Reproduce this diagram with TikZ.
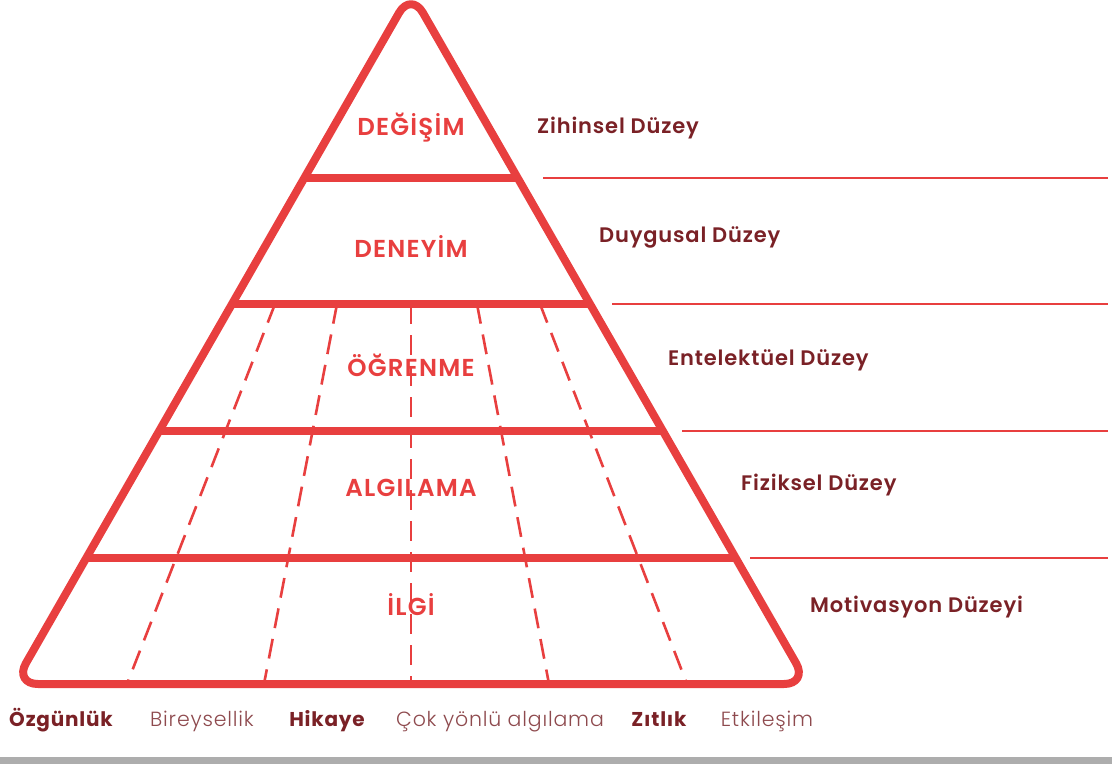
\documentclass[tikz,border=0pt]{standalone}
\usepackage{fontspec}
\setmainfont{Poppins}
\newfontfamily\levelfont{Poppins SemiBold}[LetterSpace=5]
\newfontfamily\tierfont{Poppins SemiBold}[LetterSpace=4]
\newfontfamily\keyfont{Poppins Bold}[LetterSpace=4]
\newfontfamily\asidefont{Poppins Light}[LetterSpace=4]
\usetikzlibrary{calc}
\definecolor{pyrred}{HTML}{E83F3F}
\definecolor{tierred}{HTML}{7A2126}
\definecolor{softred}{HTML}{8E4A4E}
\definecolor{bargray}{HTML}{ADADAD}

\begin{document}
\begin{tikzpicture}[x=1pt, y=-1pt,
	pyr/.style={draw=pyrred, line width=8pt, line join=round},
	band/.style={draw=pyrred, line width=8pt},
	guide/.style={draw=pyrred, line width=2.5pt},
	split/.style={draw=pyrred, line width=2.6pt, dash pattern=on 20pt off 11pt},
	level/.style={font=\levelfont\fontsize{24.5}{24.5}\selectfont, text=pyrred, anchor=base, inner sep=0pt},
	tier/.style={font=\tierfont\fontsize{21}{21}\selectfont, text=tierred, anchor=base west, inner sep=0pt},
	key/.style={font=\keyfont\fontsize{20}{20}\selectfont, text=tierred, anchor=base, inner sep=0pt},
	aside/.style={font=\asidefont\fontsize{20.5}{20.5}\selectfont, text=softred, anchor=base, inner sep=0pt}]
	\useasboundingbox (0,0) rectangle (1112,764);
	% corners of the pyramid
	\coordinate (apex) at (411,-8);
	\coordinate (bl) at (14,684);
	\coordinate (br) at (808,684);
	\coordinate (bm) at (411,684);
	% dashed splits
	\foreach \top/\bot [count=\i] in {275/127, 337/264, 411/411, 477/549, 540/687} {
		\coordinate (s\i) at (\top,304);
		\coordinate (e\i) at (\bot,684);
		\draw[split] (s\i) -- (e\i);
	}
	% bands and guide lines
	\foreach \y/\gx [count=\i] in {178/543, 304/612, 431/682, 558/750} {
		\coordinate (l\i) at ($(apex)!{(\y+8)/692}!(bl)$);
		\coordinate (r\i) at ($(apex)!{(\y+8)/692}!(br)$);
		\coordinate (ga\i) at (\gx,\y);
		\coordinate (gb\i) at (1108,\y);
		\draw[band] (l\i) -- (r\i);
		\draw[guide] (ga\i) -- (gb\i);
	}
	\draw[pyr, rounded corners=24pt] (bm) -- (bl) -- (apex) -- (br) -- cycle;
	% levels
	\node[level] (degisim) at (411,135) {DEĞİŞİM};
	\node[level] (deneyim) at (411,257) {DENEYİM};
	\node[level] (ogrenme) at (411,376) {ÖĞRENME};
	\node[level] (algilama) at (411,496) {ALGILAMA};
	\node[level] (ilgi) at (411,615) {İLGİ};
	% tiers
	\node[tier] (zihinsel) at (537,133) {Zihinsel Düzey};
	\node[tier] (duygusal) at (599,242) {Duygusal Düzey};
	\node[tier] (entelektuel) at (668,365) {Entelektüel Düzey};
	\node[tier] (fiziksel) at (741,490) {Fiziksel Düzey};
	\node[tier] (motivasyon) at (810,612) {Motivasyon Düzeyi};
	% keys along the base
	\node[key] (ozgunluk) at (61,726) {Özgünlük};
	\node[aside] (bireysellik) at (202,726) {Bireysellik};
	\node[key] (hikaye) at (327,726) {Hikaye};
	\node[aside] (cokyonlu) at (500,726) {Çok yönlü algılama};
	\node[key] (zitlik) at (659,726) {Zıtlık};
	\node[aside] (etkilesim) at (767,726) {Etkileşim};
	\fill[bargray] (0,757) rectangle (1112,764);
\end{tikzpicture}
\end{document}
